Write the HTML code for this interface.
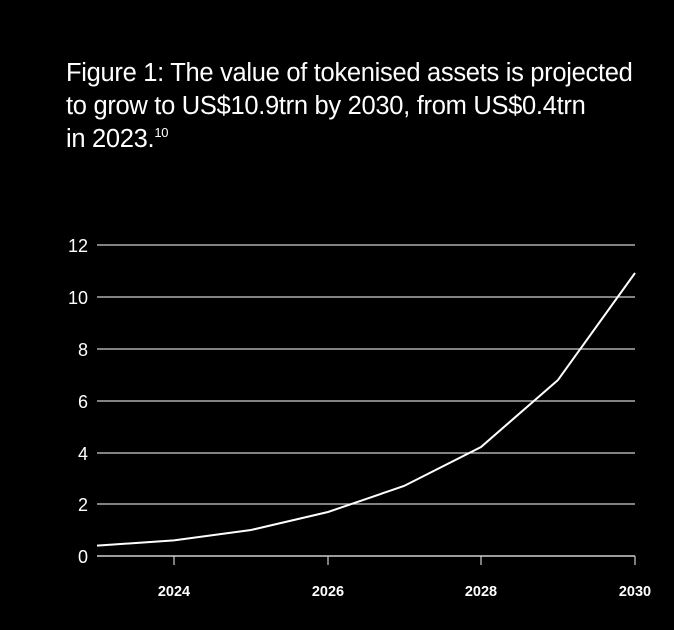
<!DOCTYPE html>
<html><head><style>
html,body{margin:0;padding:0;background:#000;}
body{width:674px;height:630px;overflow:hidden;position:relative;font-family:"Liberation Sans",sans-serif;color:#fff;}
.t{position:absolute;left:66px;top:57px;font-size:25.5px;line-height:33px;letter-spacing:-0.3px;}
sup{font-size:13px;vertical-align:10px;line-height:0}
</style></head><body>
<div class="t">Figure 1: The value of tokenised assets is projected<br>to grow to US$10.9trn by 2030, from US$0.4trn<br>in 2023.<sup>10</sup></div>
<svg width="674" height="630" style="position:absolute;left:0;top:0">
<g stroke="#cfcfcf" stroke-width="1.2">
<line x1="97" x2="635" y1="245" y2="245"/><line x1="97" x2="635" y1="297" y2="297"/>
<line x1="97" x2="635" y1="349" y2="349"/><line x1="97" x2="635" y1="401" y2="401"/>
<line x1="97" x2="635" y1="453" y2="453"/><line x1="97" x2="635" y1="504" y2="504"/>
<line x1="97" x2="635" y1="556" y2="556" stroke-width="1.5"/>
<line x1="174" x2="174" y1="556" y2="565"/><line x1="328" x2="328" y1="556" y2="565"/>
<line x1="481" x2="481" y1="556" y2="565"/><line x1="635" x2="635" y1="556" y2="565"/>
</g>
<g fill="#fff" font-size="18" text-anchor="end" font-family="Liberation Sans, sans-serif">
<text x="88" y="252">12</text><text x="88" y="304">10</text><text x="88" y="356">8</text>
<text x="88" y="408">6</text><text x="88" y="460">4</text><text x="88" y="511">2</text><text x="88" y="563">0</text>
</g>
<g fill="#fff" font-size="14.5" font-weight="bold" text-anchor="middle" font-family="Liberation Sans, sans-serif">
<text x="174" y="596">2024</text><text x="328" y="596">2026</text><text x="481" y="596">2028</text><text x="635" y="596">2030</text>
</g>
<polyline fill="none" stroke="#fff" stroke-width="2" points="97,545.6 174,540.4 251,530 328,512 404,486 481,447 558,380 635,273"/>
</svg>
</body></html>
